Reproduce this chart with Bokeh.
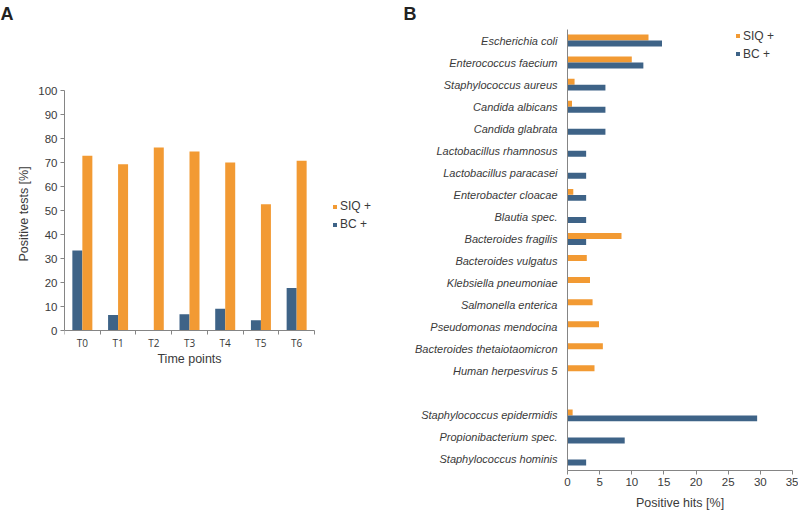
from bokeh.plotting import figure
from bokeh.layouts import row
from bokeh.models import (Range1d, FactorRange, FixedTicker, Legend, LegendItem,
                          Label, ColumnDataSource, Title)
from bokeh.transform import dodge
from bokeh.embed import file_html
from bokeh.resources import INLINE

ORANGE = "#F29A33"
BLUE = "#3E6387"
TXT = "#3a3a3a"
AX = "#858585"
FONT = "Liberation Sans"

# ---------- Panel A data ----------
time_points = ["T0", "T1", "T2", "T3", "T4", "T5", "T6"]
siq_pos = [73.0, 69.4, 76.4, 74.7, 70.2, 52.8, 70.9]
bc_pos = [33.5, 6.6, 0.0, 6.9, 9.2, 4.4, 17.8]
a_ticks = [0, 10, 20, 30, 40, 50, 60, 70, 80, 90, 100]

# ---------- Panel B data ----------
species = [
    "Escherichia coli", "Enterococcus faecium", "Staphylococcus aureus",
    "Candida albicans", "Candida glabrata", "Lactobacillus rhamnosus",
    "Lactobacillus paracasei", "Enterobacter cloacae", "Blautia spec.",
    "Bacteroides fragilis", "Bacteroides vulgatus", "Klebsiella pneumoniae",
    "Salmonella enterica", "Pseudomonas mendocina",
    "Bacteroides thetaiotaomicron", "Human herpesvirus 5",
    "Staphylococcus epidermidis", "Propionibacterium spec.",
    "Staphylococcus hominis",
]
siq_hits = [12.6, 10.0, 1.1, 0.7, 0.0, 0.0, 0.0, 0.9, 0.0, 8.4,
            3.0, 3.5, 3.9, 4.9, 5.5, 4.2, 0.8, 0.0, 0.0]
bc_hits = [14.7, 11.8, 5.9, 5.9, 5.9, 2.9, 2.9, 2.9, 2.9, 2.9,
           0.0, 0.0, 0.0, 0.0, 0.0, 0.0, 29.5, 8.9, 2.9]
b_ticks = [0, 5, 10, 15, 20, 25, 30, 35]

# shared frame geometry (both panels share top/bottom borders)
H = 512
TOP = 28
BOTTOM = 39
FRAME_H = H - TOP - BOTTOM          # 445 px

# ================= Panel A =================
WA = 400
A_LEFT, A_RIGHT = 64, 10
A_FRAME_W = WA - A_LEFT - A_RIGHT   # 326 px
n = len(time_points)
px_per_cat = 250 / n                # x axis spans 250 px
x_end = -0.5 + A_FRAME_W / px_per_cat
px_per_unit = 242 / 100
y_start = -(FRAME_H - (90 - TOP) - 242) / px_per_unit
y_end = 100 + (90 - TOP) / px_per_unit

idx = list(range(n))
pa = figure(width=WA, height=H, output_backend="svg", toolbar_location=None,
            x_range=Range1d(-0.5, x_end), y_range=Range1d(y_start, y_end),
            min_border_left=A_LEFT, min_border_right=A_RIGHT,
            min_border_top=TOP, min_border_bottom=BOTTOM)
srcA = ColumnDataSource(dict(x=idx, siq=siq_pos, bc=bc_pos))
r_bc_a = pa.vbar(x=dodge("x", -0.14), top="bc", width=0.28, source=srcA,
                 fill_color=BLUE, line_color=None)
r_siq_a = pa.vbar(x=dodge("x", 0.14), top="siq", width=0.28, source=srcA,
                  fill_color=ORANGE, line_color=None)

pa.xgrid.visible = False
pa.ygrid.visible = False
pa.outline_line_color = None

xa = pa.xaxis[0]
xa.fixed_location = 0
xa.bounds = (-0.5, n - 0.5)
xa.ticker = FixedTicker(ticks=idx, minor_ticks=[i - 0.5 for i in range(n + 1)])
xa.major_label_overrides = {i: t for i, t in enumerate(time_points)}
xa.major_tick_out = 0
xa.major_tick_in = 0
xa.minor_tick_out = 4
xa.minor_tick_in = 0
xa.axis_line_color = AX
xa.minor_tick_line_color = AX
xa.major_label_standoff = 1
xa.major_label_text_font = "Open Sans"
xa.major_label_text_font_size = "10px"
xa.major_label_text_color = TXT

ya = pa.yaxis[0]
ya.bounds = (0, 100)
ya.ticker = FixedTicker(ticks=a_ticks)
ya.major_tick_out = 4
ya.major_tick_in = 0
ya.minor_tick_out = 0
ya.minor_tick_in = 0
ya.minor_tick_line_color = None
ya.axis_line_color = AX
ya.major_tick_line_color = AX
ya.major_label_standoff = 3
ya.major_label_text_font = FONT
ya.major_label_text_font_size = "11.5px"
ya.major_label_text_color = TXT

# y-axis title as a side title, positioned along the 0..100 span
pa.add_layout(Title(text="Positive tests [%]", align="left", offset=209,
                    standoff=10, text_font=FONT, text_font_size="12.5px",
                    text_font_style="normal", text_color=TXT), "left")

# x-axis title as a label under the fixed axis
pa.add_layout(Label(x=(n - 1) / 2, y=FRAME_H - (361 - TOP), x_units="data",
                    y_units="screen", text="Time points", text_align="center",
                    text_baseline="middle", text_font=FONT,
                    text_font_size="12.5px", text_color=TXT))

legA = Legend(items=[LegendItem(label="SIQ +", renderers=[r_siq_a]),
                     LegendItem(label="BC +", renderers=[r_bc_a])],
              location=(332 - A_LEFT, H - BOTTOM - 234.5), glyph_width=5,
              glyph_height=5, label_standoff=3, label_height=15, spacing=3,
              padding=0, border_line_color=None, background_fill_alpha=0,
              label_text_font=FONT, label_text_font_size="12px",
              label_text_color=TXT)
pa.add_layout(legA)

pa.title.text = "A"
pa.title.align = "left"
pa.title.offset = -A_LEFT
pa.title.vertical_align = "top"
pa.title.standoff = 7
pa.title.text_font = FONT
pa.title.text_font_style = "bold"
pa.title.text_font_size = "18px"
pa.title.text_color = "#222222"

# ================= Panel B =================
WB = 398
B_LEFT, B_RIGHT = 167, 6
order = species[:16] + [" "] + species[16:]
factors = list(reversed(order))
pb = figure(width=WB, height=H, output_backend="svg", toolbar_location=None,
            y_range=FactorRange(factors=factors), x_range=Range1d(0, 35),
            min_border_left=B_LEFT, min_border_right=B_RIGHT,
            min_border_top=TOP, min_border_bottom=BOTTOM)
srcB = ColumnDataSource(dict(name=species, siq=siq_hits, bc=bc_hits))
r_siq_b = pb.hbar(y=dodge("name", 0.135, range=pb.y_range), left=0, right="siq",
                  height=0.27, source=srcB, fill_color=ORANGE, line_color=None)
r_bc_b = pb.hbar(y=dodge("name", -0.135, range=pb.y_range), left=0, right="bc",
                 height=0.27, source=srcB, fill_color=BLUE, line_color=None)

pb.xgrid.visible = False
pb.ygrid.visible = False
pb.outline_line_color = None

xb = pb.xaxis[0]
xb.ticker = FixedTicker(ticks=b_ticks)
xb.major_tick_out = 4
xb.major_tick_in = 0
xb.minor_tick_line_color = None
xb.axis_line_color = AX
xb.major_tick_line_color = AX
xb.major_label_standoff = 3
xb.major_label_text_font = FONT
xb.major_label_text_font_size = "11.5px"
xb.major_label_text_color = TXT
xb.axis_label = "Positive hits [%]"
xb.axis_label_text_font = FONT
xb.axis_label_text_font_size = "12.5px"
xb.axis_label_text_font_style = "normal"
xb.axis_label_text_color = TXT
xb.axis_label_standoff = 7

yb = pb.yaxis[0]
yb.major_tick_out = 0
yb.major_tick_in = 0
yb.major_tick_line_color = None
yb.axis_line_color = AX
yb.major_label_standoff = 10
yb.major_label_text_font = FONT
yb.major_label_text_font_size = "11px"
yb.major_label_text_font_style = "italic"
yb.major_label_text_color = TXT

legB = Legend(items=[LegendItem(label="SIQ +", renderers=[r_siq_b]),
                     LegendItem(label="BC +", renderers=[r_bc_b])],
              location=(735 - (WA + B_LEFT), FRAME_H - 36), glyph_width=5,
              glyph_height=5, label_standoff=3, label_height=15, spacing=3,
              padding=0, border_line_color=None, background_fill_alpha=0,
              label_text_font=FONT, label_text_font_size="12px",
              label_text_color=TXT)
pb.add_layout(legB)

pb.title.text = "B"
pb.title.align = "left"
pb.title.offset = -(B_LEFT - 3)
pb.title.vertical_align = "top"
pb.title.standoff = 7
pb.title.text_font = FONT
pb.title.text_font_style = "bold"
pb.title.text_font_size = "18px"
pb.title.text_color = "#222222"

layout = row(pa, pb)
open("out.html", "w").write(file_html(layout, INLINE))
